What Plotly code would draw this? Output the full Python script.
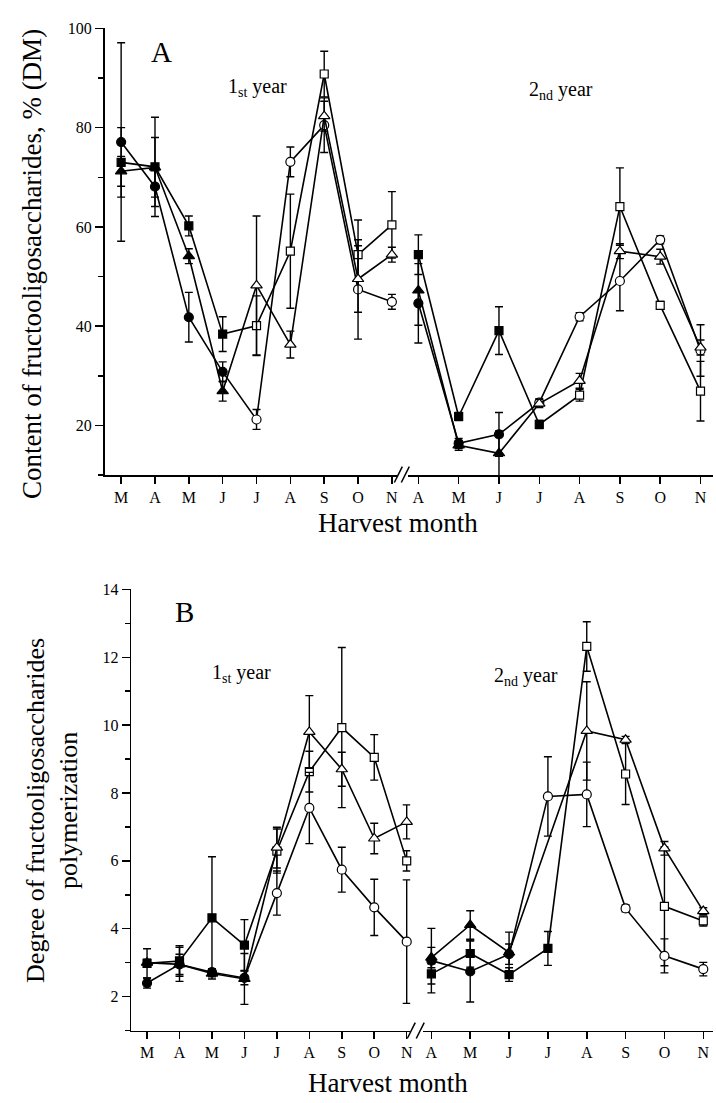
import plotly.graph_objects as go

W, H = 716, 1103

# ---------------- data ----------------
months_y1 = ["M", "A", "M", "J", "J", "A", "S", "O", "N"]
months_y2 = ["A", "M", "J", "J", "A", "S", "O", "N"]

# Panel A: content of fructooligosaccharides, % DM
fos_sq_y1 = [73.0, 72.1, 60.2, 38.4, 40.1, 55.1, 90.8, 54.4, 60.4]
fos_sq_y1_err = [7.0, 10.0, 2.0, 3.5, 6.0, 11.5, 4.6, 7.0, 6.7]
fos_ci_y1 = [77.1, 68.1, 41.8, 30.8, 21.2, 73.1, 80.5, 47.4, 44.9]
fos_ci_y1_err = [20.0, 4.0, 5.0, 2.0, 2.0, 3.0, 5.5, 10.0, 1.5]
fos_tr_y1 = [71.2, 72.0, 54.1, 26.9, 48.2, 36.3, 82.3, 49.5, 54.4]
fos_tr_y1_err = [3.0, 6.0, 1.5, 2.0, 14.0, 2.7, 3.0, 6.7, 1.5]

fos_sq_y2 = [54.4, 21.8, 39.1, 20.2, 26.1, 64.1, 44.2, 26.9]
fos_sq_y2_err = [4.0, 0.8, 4.8, 0.8, 1.2, 7.8, 0.8, 6.0]
fos_ci_y2 = [44.6, 16.4, 18.2, 24.6, 41.9, 49.1, 57.4, 35.1]
fos_ci_y2_err = [8.0, 1.0, 4.4, 0.8, 0.8, 6.0, 0.8, 5.2]
fos_tr_y2 = [47.2, 16.0, 14.4, 24.4, 29.0, 55.1, 54.0, 35.7]
fos_tr_y2_err = [7.0, 1.0, 4.5, 0.8, 1.5, 1.5, 1.5, 1.5]

# Panel B: degree of polymerization
dp_sq_y1 = [2.98, 3.05, 4.32, 3.52, 6.29, 8.63, 9.93, 9.05, 6.0]
dp_sq_y1_err = [0.43, 0.45, 1.8, 0.75, 0.65, 0.6, 2.36, 0.67, 0.3]
dp_ci_y1 = [2.4, 2.95, 2.72, 2.55, 5.05, 7.56, 5.74, 4.63, 3.62]
dp_ci_y1_err = [0.15, 0.3, 0.1, 0.2, 0.65, 1.05, 0.66, 0.83, 1.82]
dp_tr_y1 = [3.0, 2.95, 2.68, 2.52, 6.39, 9.8, 8.7, 6.66, 7.15]
dp_tr_y1_err = [0.1, 0.5, 0.1, 0.75, 0.6, 1.07, 0.5, 0.45, 0.5]

dp_sq_y2 = [2.67, 3.27, 2.65, 3.42, 12.32, 8.56, 4.66, 4.23]
dp_sq_y2_err = [0.3, 0.4, 0.2, 0.5, 0.73, 0.9, 1.75, 0.15]
dp_ci_y2 = [3.06, 2.74, 3.25, 7.9, 7.96, 4.6, 3.2, 2.81]
dp_ci_y2_err = [0.95, 0.9, 0.3, 1.17, 0.95, 0.1, 0.5, 0.2]
dp_tr_y2 = [3.15, 4.11, 3.3, None, 9.83, 9.57, 6.37, 4.52]
dp_tr_y2_err = [0.3, 0.42, 0.6, 0.0, 1.45, 0.1, 0.2, 0.1]

# number of leading samples drawn with filled symbols
filled_y1 = {"square": 4, "circle": 4, "triangle-up": 4}
filled_y2 = {"square": 4, "circle": 3, "triangle-up": 3}

FONT = "Liberation Serif"


def px(x):
    return x / W


def py(y):
    return 1 - y / H


fig = go.Figure()

SIZES = {"square": 8, "circle": 9, "triangle-up": 10}


def add_series(xa, ya, values, errs, symbol, n_filled):
    n = len(values)
    fill = ["black" if i < n_filled else "white" for i in range(n)]
    fig.add_trace(go.Scatter(
        x=list(range(n)), y=values, xaxis=xa, yaxis=ya,
        mode="lines+markers",
        line=dict(color="black", width=1.6),
        marker=dict(symbol=symbol, size=SIZES[symbol], color=fill,
                    line=dict(color="black", width=1.2)),
        error_y=dict(type="data", array=errs, color="black", thickness=1.4, width=4),
        connectgaps=True, showlegend=False, cliponaxis=False,
    ))


# Panel A
add_series("x", "y", fos_sq_y1, fos_sq_y1_err, "square", filled_y1["square"])
add_series("x", "y", fos_ci_y1, fos_ci_y1_err, "circle", filled_y1["circle"])
add_series("x", "y", fos_tr_y1, fos_tr_y1_err, "triangle-up", filled_y1["triangle-up"])
add_series("x2", "y", fos_sq_y2, fos_sq_y2_err, "square", filled_y2["square"])
add_series("x2", "y", fos_ci_y2, fos_ci_y2_err, "circle", filled_y2["circle"])
add_series("x2", "y", fos_tr_y2, fos_tr_y2_err, "triangle-up", filled_y2["triangle-up"])
# Panel B
add_series("x3", "y2", dp_sq_y1, dp_sq_y1_err, "square", filled_y1["square"])
add_series("x3", "y2", dp_ci_y1, dp_ci_y1_err, "circle", filled_y1["circle"])
add_series("x3", "y2", dp_tr_y1, dp_tr_y1_err, "triangle-up", filled_y1["triangle-up"])
add_series("x4", "y2", dp_sq_y2, dp_sq_y2_err, "square", filled_y2["square"])
add_series("x4", "y2", dp_ci_y2, dp_ci_y2_err, "circle", filled_y2["circle"])
add_series("x4", "y2", dp_tr_y2, dp_tr_y2_err, "triangle-up", filled_y2["triangle-up"])

tickfont = dict(family=FONT, size=16, color="black")


def xax(domain, rng, anchor, labels):
    return dict(domain=domain, range=rng, anchor=anchor, showline=True, linecolor="black",
                linewidth=1.5, ticks="outside", ticklen=7, tickwidth=1.5, tickcolor="black",
                tickvals=list(range(len(labels))), ticktext=labels, showgrid=False,
                zeroline=False, tickfont=tickfont, fixedrange=True)


def yax(domain, rng, anchor, dtick):
    return dict(domain=domain, range=rng, anchor=anchor, showline=True, linecolor="black",
                linewidth=1.5, ticks="outside", ticklen=8, tickwidth=1.5, tickcolor="black",
                dtick=dtick, tick0=0, showgrid=False, zeroline=False, tickfont=tickfont,
                minor=dict(ticks="outside", ticklen=5, tickwidth=1.5, tickcolor="black",
                           dtick=dtick / 2, tick0=0, showgrid=False),
                fixedrange=True)


fig.update_layout(
    width=W, height=H, margin=dict(l=0, r=0, t=0, b=0),
    paper_bgcolor="white", plot_bgcolor="white",
    font=dict(family=FONT, color="black"),
    xaxis=xax([px(105), px(400)], [-0.49, 8.19], "y", months_y1),
    xaxis2=xax([px(410), 1], [-0.25, 7.31], "y", months_y2),
    yaxis=yax([py(470.5), py(20.5)], [10, 100], "x", 20),
    xaxis3=xax([px(131.7), px(412)], [-0.49, 8.11], "y2", months_y1),
    xaxis4=xax([px(425), 1], [-0.21, 7.25], "y2", months_y2),
    yaxis2=yax([py(1030), py(585.7)], [1, 14], "x3", 2),
)


def note(text, x, y, size, angle=0):
    fig.add_annotation(text=text, x=px(x), y=py(y), xref="paper", yref="paper",
                       showarrow=False, textangle=angle, xanchor="center", yanchor="middle",
                       font=dict(family=FONT, size=size, color="black"))


note("A", 162, 44, 29)
note("B", 185, 608, 29)
note("1<sub>st</sub> year", 259, 80, 20)
note("2<sub>nd</sub> year", 563, 83, 20)
note("1<sub>st</sub> year", 243, 670, 20)
note("2<sub>nd</sub> year", 528, 673, 20)
note("Harvest month", 400, 519, 27)
note("Harvest month", 390, 1083, 27)
note("Content of fructooligosaccharides, % (DM)", 32, 258, 27, -90)
note("Degree of fructooligosaccharides<br>polymerization", 52, 808, 26, -90)

# axis break marks
for (x0, y0, x1, y1) in [(396, 478, 404, 462), (403, 478, 411, 462),
                         (409, 1038, 417, 1022), (418, 1038, 426, 1022)]:
    fig.add_shape(type="line", xref="paper", yref="paper",
                  x0=px(x0), y0=py(y0), x1=px(x1), y1=py(y1),
                  line=dict(color="black", width=1.5))

fig.write_html(
    "out.html",
    config={"displayModeBar": False, "staticPlot": True},
    post_script="document.body.style.margin='0';document.body.style.overflow='hidden';",
)
